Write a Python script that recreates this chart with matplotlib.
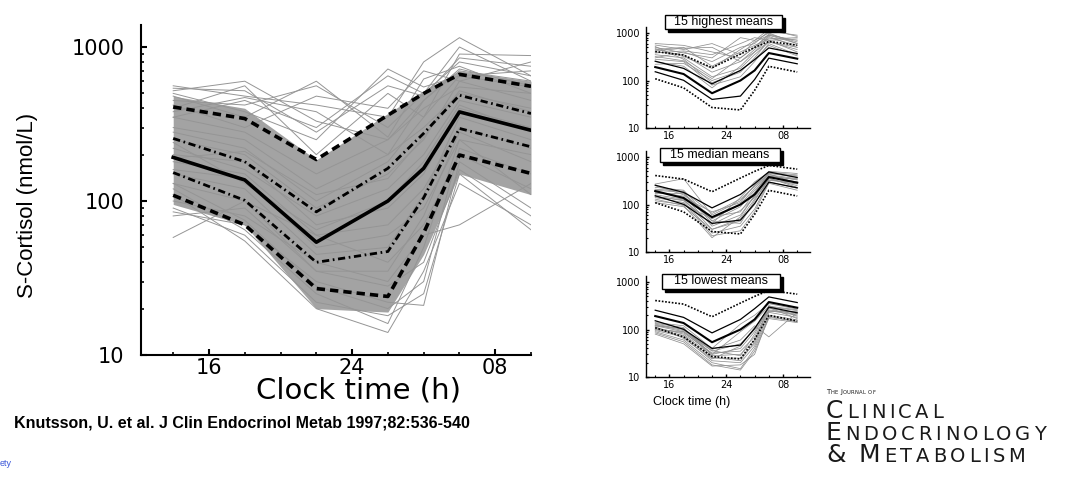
import numpy as np
import matplotlib.pyplot as plt
from matplotlib.patches import Rectangle
from matplotlib.offsetbox import TextArea, HPacker, AnnotationBbox

W, H = 1074, 483

# sampling times (h), 02/04/06/10 of the next day written as 26/28/30/34
hours = [14, 18, 22, 26, 28, 30, 34]

# percentile curves of the whole group (nmol/L)
median = [192, 137, 54, 100, 163, 379, 288]
p_hi_inner = [255, 180, 85, 163, 275, 486, 370]
p_lo_inner = [153, 101, 40, 47, 105, 296, 225]
p_hi_outer = [408, 343, 186, 361, 499, 665, 556]
p_lo_outer = [109, 70, 27, 24, 62, 199, 151]

# where the individual curves are densest
band_hi = [480, 400, 185, 370, 520, 700, 600]
band_lo = [95, 70, 20, 19, 45, 150, 110]

# individual subjects standing out from the dense band
subjects = [
    [520, 600, 330, 250, 450, 700, 600],
    [450, 420, 560, 300, 500, 800, 650],
    [500, 380, 250, 720, 550, 650, 700],
    [560, 480, 420, 350, 800, 1150, 650],
    [400, 560, 200, 500, 350, 900, 880],
    [480, 350, 600, 260, 620, 750, 500],
    [350, 450, 300, 650, 500, 1000, 600],
    [420, 300, 480, 400, 700, 600, 800],
    [540, 520, 280, 560, 480, 850, 750],
    [380, 470, 380, 200, 450, 720, 560],
    [58, 100, 60, 40, 70, 200, 120],
    [90, 60, 22, 18, 25, 150, 65],
    [110, 55, 20, 14, 35, 130, 70],
    [85, 70, 30, 22, 21, 180, 90],
    [100, 80, 40, 30, 60, 70, 130],
    [120, 65, 25, 16, 50, 250, 110],
    [80, 90, 35, 28, 40, 160, 80],
    [130, 75, 28, 20, 30, 220, 150],
    [300, 250, 120, 200, 300, 500, 400],
    [200, 180, 70, 90, 150, 400, 300],
    [150, 120, 45, 50, 110, 350, 250],
    [250, 200, 90, 150, 250, 600, 450],
    [180, 150, 60, 70, 120, 300, 220],
    [350, 280, 150, 250, 400, 550, 500],
    [130, 100, 35, 35, 80, 280, 180],
    [220, 160, 80, 120, 200, 450, 350],
    [280, 220, 100, 180, 350, 650, 550],
    [160, 140, 50, 60, 90, 250, 200],
    [240, 130, 65, 100, 180, 420, 280],
    [190, 210, 110, 140, 260, 520, 380],
]

highest = [
    [560, 450, 600, 350, 650, 900, 700],
    [500, 380, 300, 800, 700, 1000, 600],
    [450, 500, 200, 400, 550, 750, 800],
    [400, 350, 150, 250, 450, 850, 500],
    [350, 300, 120, 180, 350, 650, 450],
    [300, 400, 250, 500, 600, 1100, 900],
    [520, 280, 90, 150, 300, 700, 400],
    [280, 250, 80, 120, 250, 600, 350],
    [250, 200, 70, 200, 400, 800, 550],
    [600, 550, 400, 300, 500, 950, 650],
    [380, 420, 350, 600, 800, 700, 750],
    [320, 260, 110, 300, 500, 900, 600],
    [220, 230, 100, 160, 280, 550, 330],
    [470, 320, 180, 450, 700, 1200, 850],
    [420, 480, 500, 250, 400, 650, 500],
]
median_group = [
    [270, 350, 60, 120, 250, 450, 380],
    [230, 200, 45, 90, 200, 400, 330],
    [200, 180, 40, 140, 300, 480, 420],
    [180, 150, 35, 60, 150, 380, 300],
    [160, 130, 30, 45, 100, 350, 250],
    [150, 120, 25, 35, 80, 300, 220],
    [140, 110, 22, 28, 70, 280, 200],
    [120, 100, 50, 100, 220, 420, 350],
    [110, 90, 30, 50, 130, 330, 270],
    [250, 160, 55, 70, 180, 460, 400],
    [190, 140, 70, 110, 260, 500, 450],
    [170, 170, 45, 40, 120, 360, 230],
    [130, 95, 20, 55, 160, 320, 300],
    [210, 190, 65, 130, 240, 440, 280],
    [145, 125, 38, 75, 140, 390, 340],
]
lowest = [
    [140, 120, 40, 130, 200, 350, 270],
    [130, 100, 35, 50, 100, 300, 250],
    [120, 90, 30, 40, 90, 280, 220],
    [110, 80, 28, 30, 60, 250, 200],
    [100, 75, 25, 25, 50, 230, 180],
    [95, 70, 22, 20, 45, 200, 160],
    [90, 60, 20, 15, 40, 180, 150],
    [85, 55, 18, 14, 35, 170, 140],
    [125, 95, 38, 60, 120, 70, 230],
    [105, 85, 32, 35, 70, 260, 210],
    [135, 110, 26, 22, 55, 320, 190],
    [115, 65, 24, 45, 110, 240, 240],
    [100, 90, 36, 28, 80, 290, 170],
    [80, 50, 17, 18, 30, 190, 145],
    [120, 105, 30, 90, 150, 310, 260],
]

groups = [("15 highest means", highest), ("15 median means", median_group),
          ("15 lowest means", lowest)]

tick_pos = [16, 24, 32]
tick_lab = ["16", "24", "08"]
ytick_pos = [10, 100, 1000]
ytick_lab = ["10", "100", "1000"]

fig = plt.figure(figsize=(W / 100, H / 100), dpi=100)


def style_axes(ax, lw, fs, major_len, minor_len, xlim, ylim):
    ax.set_yscale("log")
    ax.set_xlim(*xlim)
    ax.set_ylim(*ylim)
    for s in ["top", "right"]:
        ax.spines[s].set_visible(False)
    for s in ["left", "bottom"]:
        ax.spines[s].set_linewidth(lw)
    ax.set_xticks(tick_pos)
    ax.set_xticklabels(tick_lab, fontsize=fs)
    ax.set_xticks([t for t in range(14, 35, 2) if t not in tick_pos], minor=True)
    ax.set_yticks(ytick_pos)
    ax.set_yticklabels(ytick_lab, fontsize=fs)
    ax.set_yticks([m * d for d in (10, 100) for m in range(2, 10)], minor=True)
    ax.yaxis.set_minor_formatter(plt.NullFormatter())
    ax.tick_params(which="major", direction="in", length=major_len, width=lw)
    ax.tick_params(which="minor", direction="in", length=minor_len, width=lw * 0.8)


# main panel
ax = fig.add_axes([141 / W, 1 - 355 / H, 390 / W, 330 / H])
ax.fill_between(hours, band_lo, band_hi, color="#a3a3a3", lw=0, zorder=1)
for s in subjects:
    ax.plot(hours, s, color="#959595", lw=0.7, zorder=2)
ax.plot(hours, p_hi_outer, color="black", lw=2.6, dashes=(2.3, 1.4), zorder=3)
ax.plot(hours, p_lo_outer, color="black", lw=2.6, dashes=(2.3, 1.4), zorder=3)
ax.plot(hours, p_hi_inner, color="black", lw=2.0, dashes=(2.6, 1.3, 0.6, 1.3), zorder=3)
ax.plot(hours, p_lo_inner, color="black", lw=2.0, dashes=(2.6, 1.3, 0.6, 1.3), zorder=3)
ax.plot(hours, median, color="black", lw=2.6, zorder=4)
style_axes(ax, 1.5, 15, 4, 2.5, (12.2, 34.0), (10, 1390))
ax.tick_params(axis="y", pad=12)
ax.tick_params(axis="x", pad=2)

fig.text(28 / W, 1 - 205 / H, "S-Cortisol (nmol/L)", rotation=90, ha="center",
         va="center", fontsize=16, family="Liberation Sans")
fig.text(358 / W, 1 - 391 / H, "Clock time (h)", ha="center", va="center",
         fontsize=21)

# the three sub-groups
bottoms = [128, 252, 377]
boxes = [(665, 15, 782, 29), (660, 148, 780, 162), (662, 274, 780, 289)]
for (title, lines), b, box in zip(groups, bottoms, boxes):
    sax = fig.add_axes([646 / W, 1 - b / H, 164 / W, 101 / H])
    for s in lines:
        sax.plot(hours, s, color="#8f8f8f", lw=0.55, zorder=2)
    for ref in (p_hi_outer, p_lo_outer):
        sax.plot(hours, ref, color="black", lw=1.2, dashes=(1, 1), zorder=3)
    for ref in (p_hi_inner, p_lo_inner):
        sax.plot(hours, ref, color="black", lw=0.9, zorder=3)
    sax.plot(hours, median, color="black", lw=1.5, zorder=4)
    style_axes(sax, 1.0, 7, 2.5, 1.5, (12.7, 35.8), (10, 1340))
    sax.tick_params(axis="x", pad=2)
    sax.tick_params(axis="y", pad=4)

    x0, y0, x1, y1 = box
    fig.add_artist(Rectangle(((x0 + 3) / W, 1 - (y1 + 3) / H), (x1 - x0) / W,
                             (y1 - y0) / H, transform=fig.transFigure,
                             facecolor="black", edgecolor="black"))
    fig.add_artist(Rectangle((x0 / W, 1 - y1 / H), (x1 - x0) / W, (y1 - y0) / H,
                             transform=fig.transFigure, facecolor="white",
                             edgecolor="black", lw=1.0))
    fig.text((x0 + x1) / 2 / W, 1 - (y0 + y1) / 2 / H, title, ha="center",
             va="center", fontsize=9, family="Liberation Sans")

fig.text(692 / W, 1 - 402 / H, "Clock time (h)", ha="center", va="center",
         fontsize=9, family="Liberation Sans")

fig.text(14 / W, 1 - 423 / H,
         "Knutsson, U. et al. J Clin Endocrinol Metab 1997;82:536-540",
         ha="left", va="center", fontsize=11.5, fontweight="bold",
         family="Liberation Sans")
fig.text(0, 1 - 464 / H, "ety", ha="left", va="center", fontsize=6.5,
         color="#3a55d8", family="Liberation Sans")


# journal logo in small capitals, letter by letter so it can be spaced out
def small_caps(parts, x, y, gap):
    letters = []
    for t, sz in parts:
        for ch in t:
            letters.append(TextArea(ch, textprops=dict(size=sz, family="DejaVu Sans",
                                                       color="#1a1a1a")))
    pack = HPacker(children=letters, align="baseline", pad=0, sep=gap)
    fig.add_artist(AnnotationBbox(pack, (x / W, 1 - y / H), xycoords="figure fraction",
                                  box_alignment=(0, 0.5), frameon=False, pad=0))


small_caps([("T", 5), ("HE", 3.8), (" ", 3.8), ("J", 5), ("OURNAL", 3.8),
            (" ", 3.8), ("OF", 3.8)], 826, 392, 0.2)
small_caps([("C", 18), ("LINICAL", 14)], 826, 411, 2.6)
small_caps([("E", 18), ("NDOCRINOLOGY", 14)], 826, 433, 2.6)
small_caps([("&", 18), (" ", 14), ("M", 18), ("ETABOLISM", 14)], 826, 455, 2.6)

fig.savefig("out.png", dpi=100)
